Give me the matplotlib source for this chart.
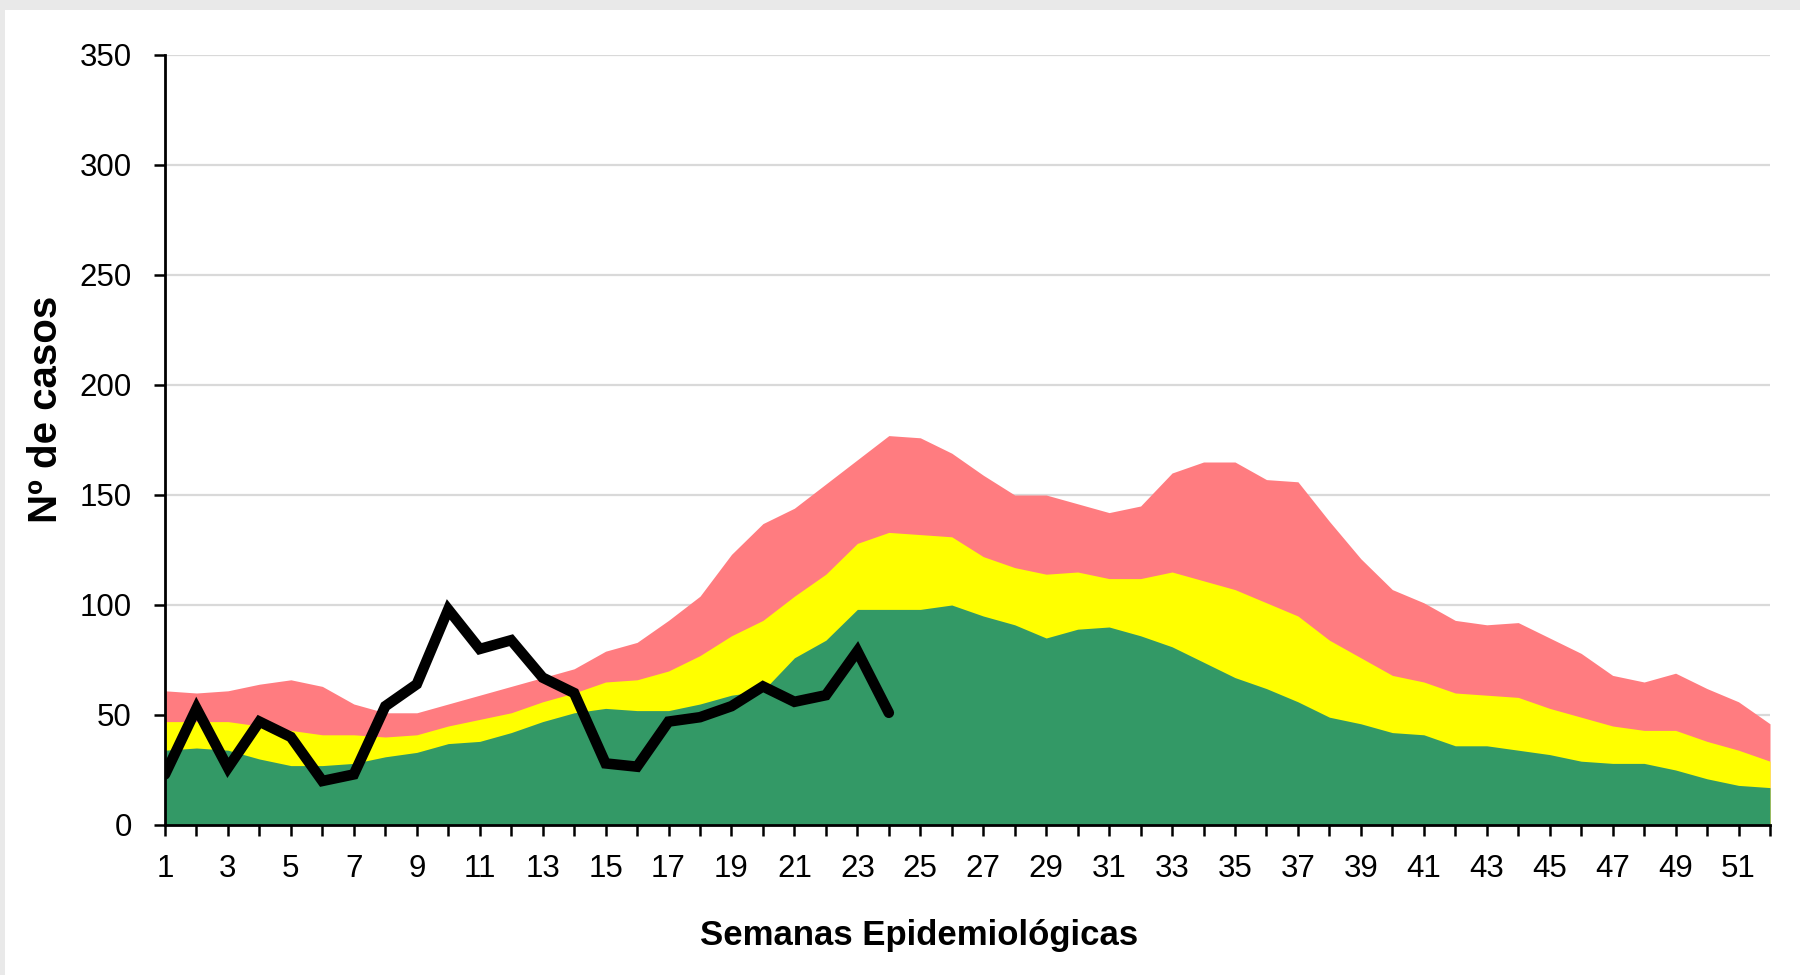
import matplotlib
matplotlib.use("Agg")
import matplotlib.pyplot as plt
from matplotlib.patches import Rectangle

# Semanas epidemiológicas
semanas = list(range(1, 53))

# Límites del canal endémico (bordes superiores de cada zona)
zona_exito = [34, 35, 34, 30, 27, 27, 28, 31, 33, 37, 38, 42, 47, 51, 53, 52,
              52, 55, 59, 61, 76, 84, 98, 98, 98, 100, 95, 91, 85, 89,
              90, 86, 81, 74, 67, 62, 56, 49, 46, 42, 41, 36, 36, 34, 32, 29,
              28, 28, 25, 21, 18, 17]
zona_seguridad = [47, 47, 47, 45, 43, 41, 41, 40, 41, 45, 48, 51, 56, 60, 65, 66,
                  70, 77, 86, 93, 104, 114, 128, 133, 132, 131, 122, 117, 114, 115,
                  112, 112, 115, 111, 107, 101, 95, 84, 76, 68, 65, 60, 59, 58, 53, 49,
                  45, 43, 43, 38, 34, 29]
zona_alerta = [61, 60, 61, 64, 66, 63, 55, 51, 51, 55, 59, 63, 67, 71, 79, 83,
               93, 104, 123, 137, 144, 155, 166, 177, 176, 169, 159, 150, 150, 146,
               142, 145, 160, 165, 165, 157, 156, 138, 121, 107, 101, 93, 91, 92, 85, 78,
               68, 65, 69, 62, 56, 46]

# Casos del año actual (semanas 1 a 24)
semanas_actual = list(range(1, 25))
casos_actual = [23, 53, 26, 47, 40, 20, 23, 54, 64, 98, 80, 84, 67, 60, 28, 26.5,
                47, 49, 54, 63, 56, 59, 79, 51]

yticks = [0, 50, 100, 150, 200, 250, 300, 350]

fuente = ['Liberation Sans', 'DejaVu Sans']

fig = plt.figure(figsize=(18, 9.75), dpi=100, facecolor='#e9e9e9')
# panel blanco
fig.patches.append(Rectangle((5 / 1800, 0), 1, 1 - 10 / 975, transform=fig.transFigure,
                             facecolor='white', edgecolor='none', zorder=-1))

ax = fig.add_axes([165 / 1800, 150 / 975, 1605 / 1800, 770 / 975])
ax.set_facecolor('white')

ax.fill_between(semanas, 0, zona_alerta, color='#ff7c80', linewidth=0, zorder=2)
ax.fill_between(semanas, 0, zona_seguridad, color='#ffff00', linewidth=0, zorder=3)
ax.fill_between(semanas, 0, zona_exito, color='#339966', linewidth=0, zorder=4)
ax.plot(semanas_actual, casos_actual, color='black', linewidth=7.6,
        solid_joinstyle='miter', solid_capstyle='round', zorder=5)

ax.set_xlim(1, 52)
ax.set_ylim(0, 350)
ax.set_yticks(yticks)
ax.set_xticks(semanas)
ax.set_xticklabels([str(s) if s % 2 == 1 else '' for s in semanas])
ax.grid(axis='y', color='#d9d9d9', linewidth=1.6, zorder=1)
ax.set_axisbelow(True)

for s in ['top', 'right']:
    ax.spines[s].set_visible(False)
for s in ['left', 'bottom']:
    ax.spines[s].set_linewidth(2)
    ax.spines[s].set_zorder(6)

ax.tick_params(axis='both', direction='out', length=8, width=1.8, colors='black')
ax.tick_params(axis='y', pad=16)
ax.tick_params(axis='x', pad=13)
for lab in ax.get_xticklabels() + ax.get_yticklabels():
    lab.set_fontfamily(fuente)
    lab.set_fontsize(22.5)

ax.set_xlabel('Semanas Epidemiológicas', fontsize=25, fontweight='bold', family=fuente)
ax.xaxis.set_label_coords(0.47, -0.122)
ax.set_ylabel('Nº de casos', fontsize=29, fontweight='bold', family=fuente)
ax.yaxis.set_label_coords(-0.062, 0.54)

fig.savefig('out.png', dpi=100, facecolor=fig.get_facecolor())
